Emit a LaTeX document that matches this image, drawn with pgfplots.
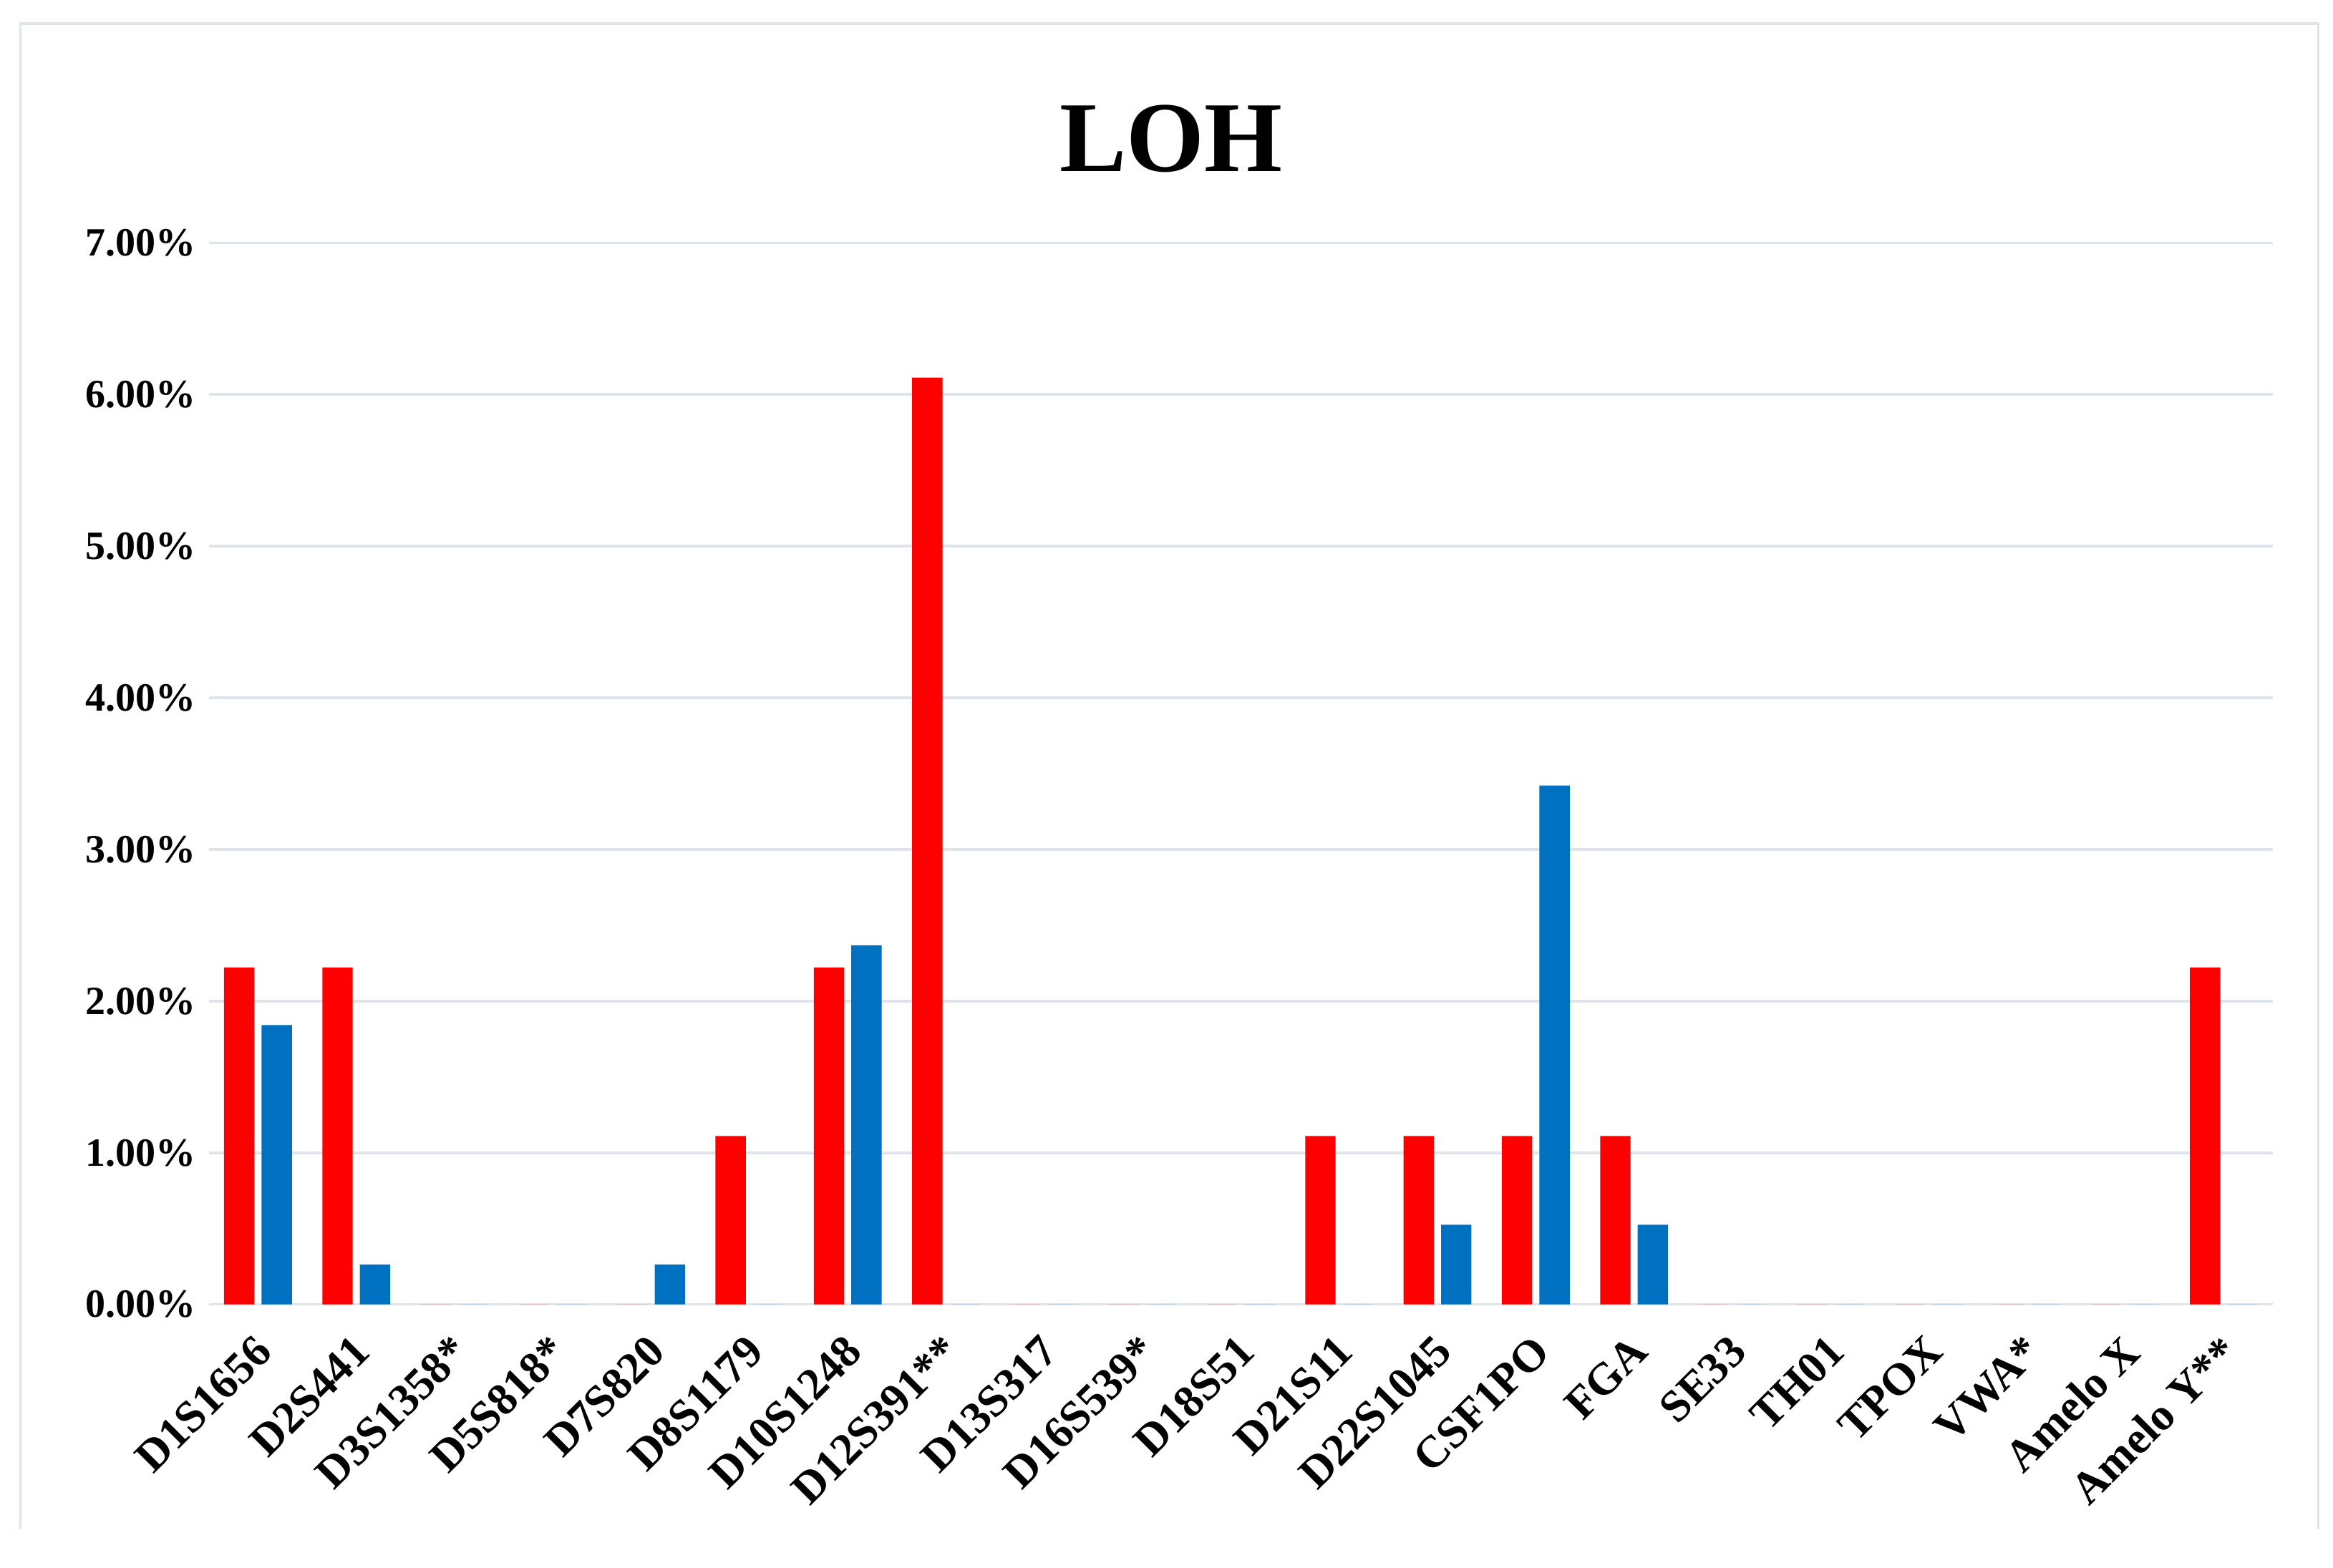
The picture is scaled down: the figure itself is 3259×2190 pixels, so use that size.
\documentclass[border=0pt]{standalone}
\usepackage{fontspec}
\setmainfont{Liberation Serif}
\usepackage{pgfplots}
\pgfplotsset{compat=1.18}
\definecolor{barred}{HTML}{FF0000}
\definecolor{barblue}{HTML}{0070C0}
\definecolor{gridc}{HTML}{DEE4EB}

\pgfplotstableread{
x red blue
0 2.222 1.842
1 2.222 0.263
2 0 0
3 0 0
4 0 0.263
5 1.111 0
6 2.222 2.368
7 6.111 0
8 0 0
9 0 0
10 0 0
11 1.111 0
12 1.111 0.526
13 1.111 3.421
14 1.111 0.526
15 0 0
16 0 0
17 0 0
18 0 0
19 0 0
20 2.222 0
}\loh

\begin{document}
\begin{tikzpicture}[x=0.2pt,y=0.2pt]
\useasboundingbox (0,0) rectangle (3259,2190);
\fill[white] (0,0) rectangle (3259,2190);
\draw[gridc, line width=0.7pt] (28.5,53) -- (28.5,2157) -- (3238.5,2157) -- (3238.5,53);
\node[anchor=base, font=\bfseries\fontsize{28}{30}\selectfont, inner sep=0pt] at (1636,1950) {LOH};
\begin{axis}[
  at={(58.34pt,73.46pt)}, anchor=south west,
  scale only axis,
  width=576.67pt, height=296.68pt,
  xmin=-0.5, xmax=20.5, ymin=0, ymax=7,
  axis line style={draw=none},
  major tick length=0pt,
  ymajorgrids,
  grid style={gridc, line width=0.7pt},
  ytick={0,1,2,3,4,5,6,7},
  yticklabels={0.00\%,1.00\%,2.00\%,3.00\%,4.00\%,5.00\%,6.00\%,7.00\%},
  y tick label style={anchor=east, inner sep=0pt, xshift=-3.4pt, font=\bfseries\fontsize{11.2}{14}\selectfont},
  xtick={0,...,20},
  xticklabels={D1S1656,D2S441,D3S1358*,D5S818*,D7S820,D8S1179,D10S1248,D12S391**,D13S317,D16S539*,D18S51,D21S11,D22S1045,CSF1PO,FGA,SE33,TH01,TPOX,VWA*,Amelo X,Amelo Y**},
  x tick label style={rotate=45, anchor=north east, inner sep=0pt, xshift=-6.5pt, yshift=-4.5pt, font=\bfseries\fontsize{12.6}{15}\selectfont},
  ybar, bar width=8.48pt,
  clip=false,
]
\addplot[fill=barred, draw=none, bar shift=-5.24pt] table[x=x, y=red] {\loh};
\addplot[fill=barblue, draw=none, bar shift=5.24pt] table[x=x, y=blue] {\loh};
\end{axis}
\end{tikzpicture}
\end{document}
